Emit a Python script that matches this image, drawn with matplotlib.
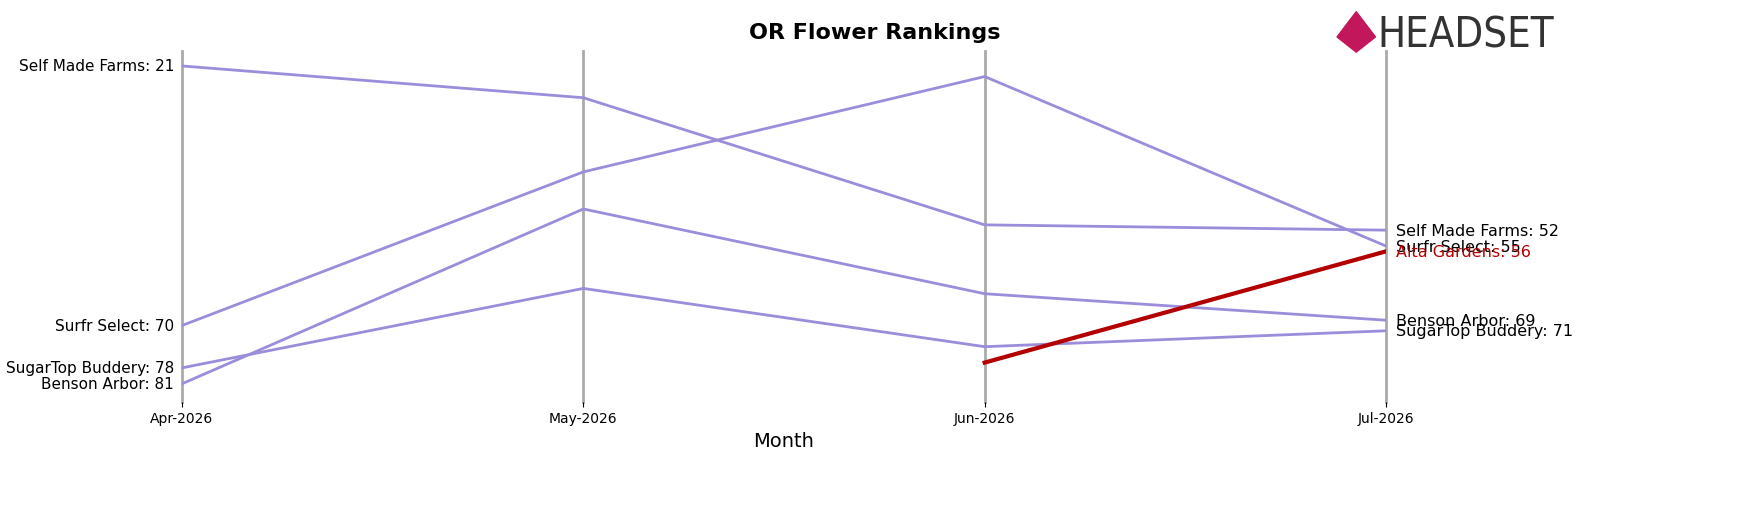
import matplotlib.pyplot as plt

months = ['Apr-2026', 'May-2026', 'Jun-2026', 'Jul-2026']
self_made = [21, 27, 51, 52]
surfr = [70, 41, 23, 55]
benson = [81, 48, 64, 69]
sugartop = [78, 63, 74, 71]
alta_months = ['Jun-2026', 'Jul-2026']
alta = [77, 56]

brands = [('Self Made Farms', self_made), ('Surfr Select', surfr),
          ('Benson Arbor', benson), ('SugarTop Buddery', sugartop)]

fig = plt.figure(figsize=(17.5, 5.06), dpi=100)
ax = fig.add_axes([0.104, 0.204, 0.688, 0.693])
xs = list(range(len(months)))

for x in xs:
    ax.axvline(x, color='#aaaaaa', lw=2, zorder=0, clip_on=False)

purple = '#9b8ddb'
for name, vals in brands:
    ax.plot(xs, vals, color=purple, lw=2)
    ax.text(-0.02, vals[0], f'{name}: {vals[0]}', ha='right', va='center', fontsize=11)
    ax.text(xs[-1] + 0.025, vals[-1], f'{name}: {vals[-1]}', ha='left', va='center', fontsize=11.5)

ax_x = [months.index(m) for m in alta_months]
ax.plot(ax_x, alta, color='#b30000', lw=3)
ax.text(xs[-1] + 0.025, alta[-1], f'Alta Gardens: {alta[-1]}', ha='left', va='center',
        fontsize=11.5, color='#b30000')

ax.set_xlim(0, 3)
ax.set_ylim(84.4, 18.2)
ax.set_xticks(xs)
ax.set_xticklabels(months)
ax.set_yticks([])
ax.set_xlabel('Month', fontsize=14)
for s in ax.spines.values():
    s.set_visible(False)

fig.text(0.5, 0.935, 'OR Flower Rankings', ha='center', va='center', fontsize=16, fontweight='bold')
fig.text(0.787, 0.93, 'HEADSET', ha='left', va='center', fontsize=30, color='#333333',
         fontstretch='condensed')
fig.patches.append(plt.Polygon([[0.764, 0.925], [0.775, 0.975], [0.786, 0.925], [0.775, 0.895]],
                               transform=fig.transFigure, color='#c2185b'))

fig.savefig('out.png')
